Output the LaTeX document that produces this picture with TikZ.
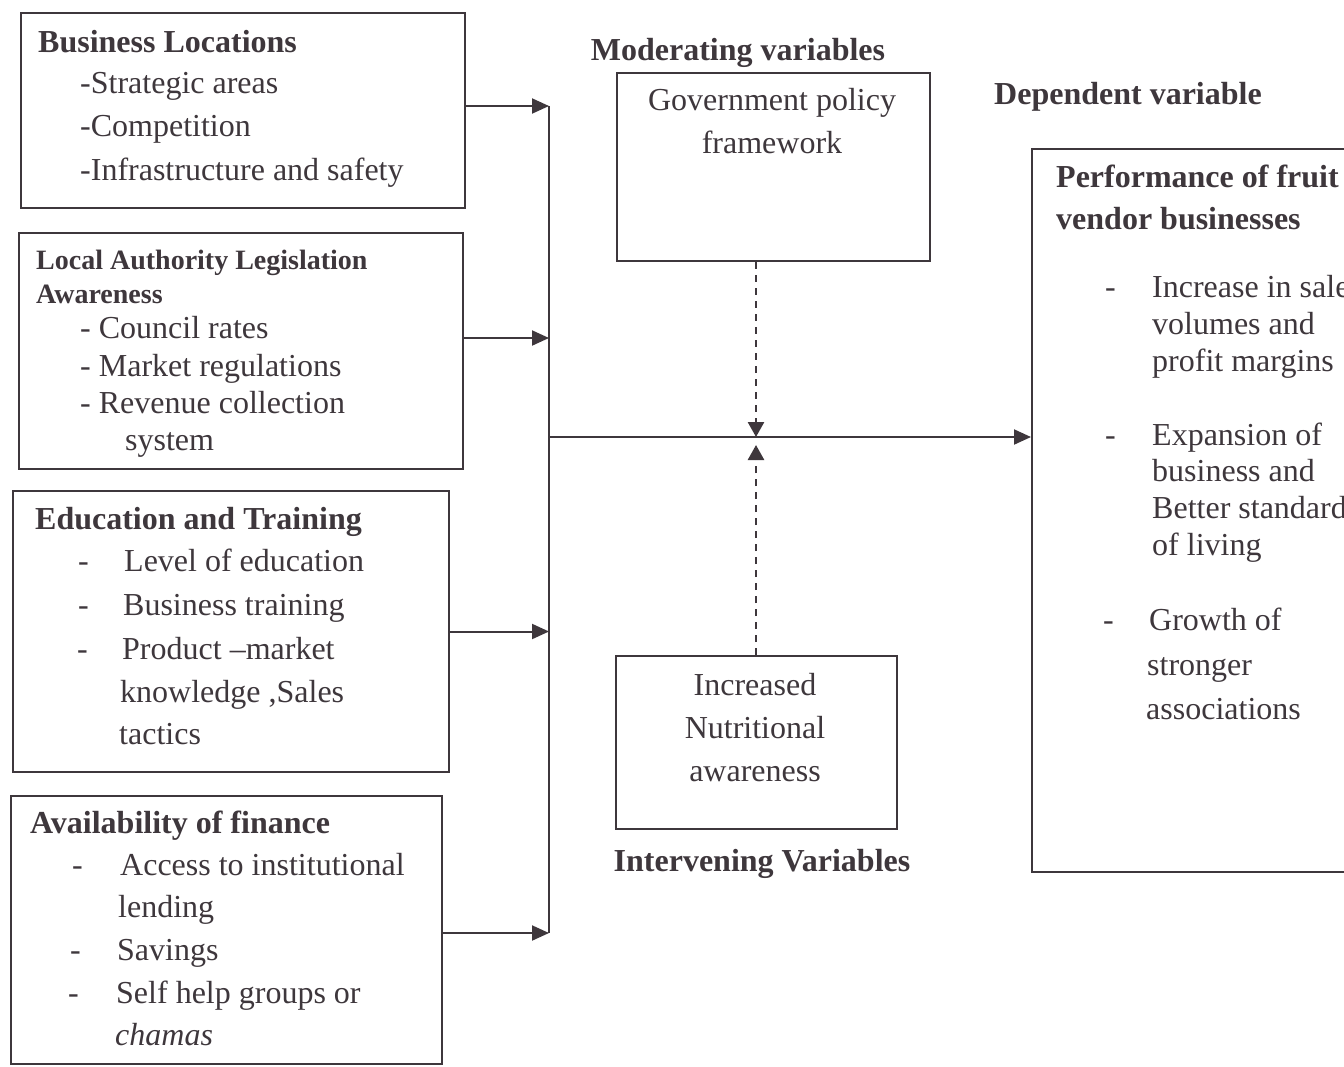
\documentclass[tikz,border=0pt]{standalone}
\usepackage{fontspec}
\setmainfont{Liberation Serif}
\usetikzlibrary{arrows.meta}
\definecolor{ink}{RGB}{62,55,60}
\begin{document}
\begin{tikzpicture}[x=1pt,y=-1pt,
  frame/.style={draw=ink, line width=2pt, inner sep=0pt, anchor=north west},
  txt/.style={anchor=base west, inner sep=0pt, text=ink, font=\fontsize{32}{38}\selectfont},
  hd/.style={txt, font=\fontsize{32}{38}\selectfont\bfseries},
  hds/.style={txt, font=\fontsize{28}{34}\selectfont\bfseries},
  ctxt/.style={txt, anchor=base},
  chd/.style={hd, anchor=base},
  conn/.style={draw=ink, line width=2pt},
  arr/.style={conn, -{Triangle[length=17pt,width=15pt]}},
  darr/.style={draw=ink, line width=2.6pt, dash pattern=on 7pt off 6pt, -{Triangle[length=15pt,width=16pt]}}
]
\useasboundingbox (0,0) rectangle (1344,1066);
\clip (0,0) rectangle (1344,1066);
\fill[white] (0,0) rectangle (1344,1066);

% ---------- left boxes ----------
\node[frame, minimum width=444pt, minimum height=195pt] (b1) at (20,12) {};
\node[hd] (b1h) at (38,52) {Business Locations};
\node[txt] (b1a) at (80,93) {-Strategic areas};
\node[txt] (b1b) at (80,136) {-Competition};
\node[txt] (b1c) at (80,180) {-Infrastructure and safety};

\node[frame, minimum width=444pt, minimum height=236pt] (b2) at (18,232) {};
\node[hds] (b2h) at (36,269) {Local Authority Legislation};
\node[hds] (b2i) at (36,303) {Awareness};
\node[txt] (b2a) at (80,338) {- Council rates};
\node[txt] (b2b) at (80,376) {- Market regulations};
\node[txt] (b2c) at (80,413) {- Revenue collection};
\node[txt] (b2d) at (125,450) {system};

\node[frame, minimum width=436pt, minimum height=281pt] (b3) at (12,490) {};
\node[hd] (b3h) at (35,529) {Education and Training};
\node[txt] (b3d1) at (78,571) {-};
\node[txt] (b3a) at (124,571) {Level of education};
\node[txt] (b3d2) at (78,615) {-};
\node[txt] (b3b) at (123,615) {Business training};
\node[txt] (b3d3) at (77,659) {-};
\node[txt] (b3c) at (122,659) {Product –market};
\node[txt] (b3e) at (120,702) {knowledge ,Sales};
\node[txt] (b3f) at (119,744) {tactics};

\node[frame, minimum width=431pt, minimum height=268pt] (b4) at (10,795) {};
\node[hd] (b4h) at (30,833) {Availability of finance};
\node[txt] (b4d1) at (72,875) {-};
\node[txt] (b4a) at (120,875) {Access to institutional};
\node[txt] (b4b) at (118,917) {lending};
\node[txt] (b4d2) at (70,960) {-};
\node[txt] (b4c) at (117,960) {Savings};
\node[txt] (b4d3) at (68,1003) {-};
\node[txt] (b4e) at (116,1003) {Self help groups or};
\node[txt] (b4f) at (115,1045) {\itshape chamas};

% ---------- middle ----------
\node[chd] (modl) at (738,60) {Moderating variables};
\node[frame, minimum width=313pt, minimum height=188pt] (mod) at (616,72) {};
\node[ctxt] (moda) at (772,110) {Government policy};
\node[ctxt] (modb) at (772,153) {framework};

\node[frame, minimum width=281pt, minimum height=173pt] (int) at (615,655) {};
\node[ctxt] (inta) at (755,695) {Increased};
\node[ctxt] (intb) at (755,738) {Nutritional};
\node[ctxt] (intc) at (755,781) {awareness};
\node[chd] (intl) at (762,871) {Intervening Variables};

% ---------- right box ----------
\node[hd] (depl) at (994,104) {Dependent variable};
\node[frame, minimum width=340pt, minimum height=723pt] (dep) at (1031,148) {};
\node[hd] (deph) at (1056,187) {Performance of fruit};
\node[hd] (depi) at (1056,229) {vendor businesses};
\node[txt] (dd1) at (1105,297) {-};
\node[txt] (da1) at (1152,297) {Increase in sales};
\node[txt] (da2) at (1152,334) {volumes and};
\node[txt] (da3) at (1152,371) {profit margins};
\node[txt] (dd2) at (1105,445) {-};
\node[txt] (db1) at (1152,445) {Expansion of};
\node[txt] (db2) at (1152,481) {business and};
\node[txt] (db3) at (1152,518) {Better standards};
\node[txt] (db4) at (1152,555) {of living};
\node[txt] (dd3) at (1103,630) {-};
\node[txt] (dc1) at (1149,630) {Growth of};
\node[txt] (dc2) at (1147,675) {stronger};
\node[txt] (dc3) at (1146,719) {associations};

% ---------- connectors ----------
\coordinate (ctop) at (549,106);
\coordinate (cbot) at (549,933);
\coordinate (cmid) at (549,437);
\coordinate (jn) at (756,437);
\draw[conn] (ctop) -- (cbot);
\draw[arr] (b1.east |- ctop) -- (ctop);
\draw[arr] ([yshift=13pt]b2.east) -- ([yshift=13pt]b2.east -| ctop);
\draw[arr] (b3.east) -- (b3.east -| ctop);
\draw[arr] (b4.east |- cbot) -- (cbot);
\draw[arr] (cmid) -- (cmid -| dep.west);
\draw[darr] (mod.south -| jn) -- (jn);
\draw[darr] (int.north -| jn) -- ([yshift=-8pt]jn);
\end{tikzpicture}
\end{document}
